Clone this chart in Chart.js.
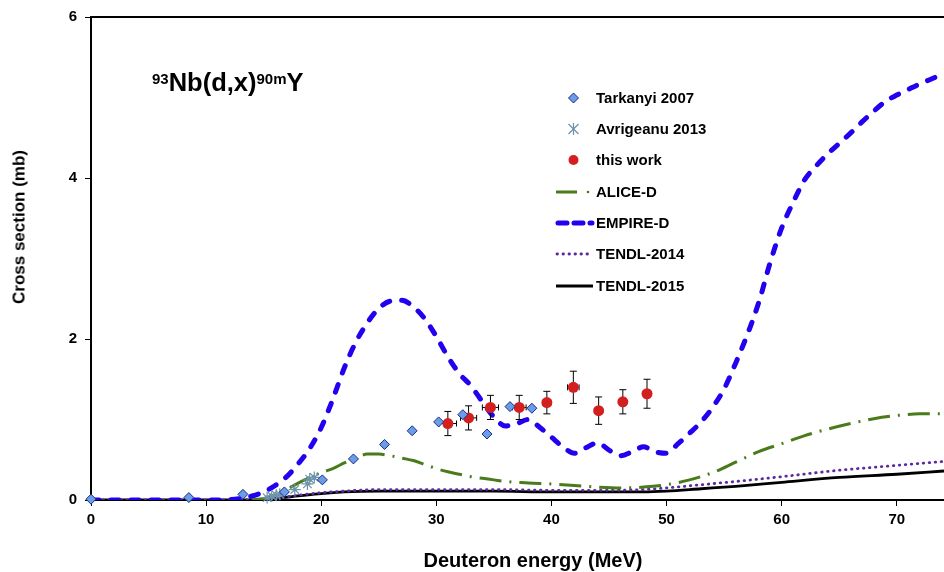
<!DOCTYPE html>
<html>
<head>
<meta charset="utf-8">
<script src="https://cdn.jsdelivr.net/npm/chart.js@4.4.1/dist/chart.umd.min.js"></script>
<style>
  body { margin: 0; background: #fff; }
  #wrap { position: relative; width: 944px; height: 572px; font-family: "Liberation Sans", Arial, sans-serif; font-weight: bold; color: #000; }
  canvas { position: absolute; left: 0; top: 0; }
  .lbl { position: absolute; white-space: nowrap; }
  .title { left: 152px; top: 70px; font-size: 25.5px; line-height: 25px; }
  .title sup { font-size: 15px; line-height: 0; vertical-align: 7px; }
  .ytitle { left: 19px; top: 227px; font-size: 17px; line-height: 17px; transform: translate(-50%, -50%) rotate(-90deg); }
  .xtitle { left: 533px; top: 550px; font-size: 20px; line-height: 20px; transform: translateX(-50%); }
  .leg { position: absolute; left: 555px; height: 16px; font-size: 15px; line-height: 16px; white-space: nowrap; }
  .leg svg { position: absolute; left: 0; top: 0; }
  .leg span { position: absolute; left: 41px; top: 0; }
</style>
</head>
<body>
<div id="wrap">
  <canvas id="chart" width="944" height="572"></canvas>
  <div class="lbl title"><sup>93</sup>Nb(d,x)<sup>90m</sup>Y</div>
  <div class="lbl ytitle">Cross section (mb)</div>
  <div class="lbl xtitle">Deuteron energy (MeV)</div>
  <div id="legend"></div>
</div>
<script>
// axis ticks
var xTicks = [0, 10, 20, 30, 40, 50, 60, 70];
var yTicks = [0, 2, 4, 6];

// Tarkanyi 2007
var tarkE  = [0, 8.5, 13.2, 16.8, 20.1, 22.8, 25.5, 27.9, 30.2, 32.3, 34.4, 36.4, 38.3];
var tarkXS = [0.01, 0.03, 0.07, 0.10, 0.25, 0.51, 0.69, 0.86, 0.97, 1.06, 0.82, 1.16, 1.14];

// Avrigeanu 2013
var avrE  = [15.3, 15.7, 16.1, 16.4, 17.7, 18.8, 19.0, 19.4];
var avrXS = [0.03, 0.05, 0.06, 0.07, 0.13, 0.20, 0.26, 0.28];

// this work (with uncertainties)
var workE   = [31.0, 32.8, 34.7, 37.2, 39.6, 41.9, 44.1, 46.2, 48.3];
var workXS  = [0.95, 1.02, 1.15, 1.15, 1.21, 1.40, 1.11, 1.22, 1.32];
var workDE  = [0.75, 0.7, 0.7, 0.6, 0.35, 0.5, 0.3, 0.2, 0.1];
var workDXS = [0.15, 0.15, 0.15, 0.15, 0.14, 0.20, 0.17, 0.15, 0.18];

// ALICE-D
var aliceE  = [14, 15, 16, 17, 18, 19, 20, 21, 22, 23, 24, 25, 26, 27, 28, 29, 30, 31, 32, 33, 34, 35, 36, 37, 38, 40, 42, 44, 46, 48, 50, 52, 54, 56, 58, 60, 62, 64, 66, 68, 70, 72, 74.1];
var aliceXS = [0, 0.02, 0.06, 0.13, 0.21, 0.28, 0.34, 0.39, 0.46, 0.52, 0.57, 0.57, 0.55, 0.52, 0.49, 0.44, 0.39, 0.35, 0.32, 0.29, 0.27, 0.25, 0.23, 0.22, 0.21, 0.2, 0.18, 0.16, 0.15, 0.16, 0.19, 0.25, 0.34, 0.47, 0.6, 0.7, 0.8, 0.88, 0.95, 1.01, 1.05, 1.07, 1.07];

// EMPIRE-D
var empireE  = [0, 5, 10, 12, 13, 14, 15, 16, 17, 18, 19, 20, 21, 22, 23, 24, 25, 26, 27, 28, 29, 30, 31, 32, 33, 34, 35, 36, 37, 38, 39, 40, 41, 42, 43, 44, 45, 46, 47, 48, 49, 50, 51, 52, 53, 54, 55, 56, 57, 58, 59, 60, 61, 62, 63, 64, 65, 66, 67, 68, 69, 70, 71, 72, 73, 74.1];
var empireXS = [0, 0, 0, 0.005, 0.02, 0.05, 0.1, 0.18, 0.29, 0.45, 0.64, 0.9, 1.25, 1.64, 1.96, 2.2, 2.38, 2.47, 2.48, 2.4, 2.25, 2.03, 1.78, 1.57, 1.42, 1.22, 1.03, 0.92, 0.95, 1.0, 0.9, 0.78, 0.66, 0.58, 0.65, 0.71, 0.62, 0.55, 0.6, 0.66, 0.6, 0.58, 0.7, 0.83, 0.97, 1.15, 1.38, 1.7, 2.05, 2.45, 2.95, 3.38, 3.7, 3.98, 4.15, 4.3, 4.43, 4.56, 4.7, 4.83, 4.95, 5.03, 5.1, 5.17, 5.23, 5.3];

// TENDL-2014
var t14E  = [0, 14, 16, 18, 20, 22, 25, 30, 35, 40, 45, 48, 50, 53, 56, 60, 65, 70, 74.1];
var t14XS = [0, 0, 0.02, 0.06, 0.09, 0.11, 0.13, 0.13, 0.13, 0.12, 0.12, 0.13, 0.15, 0.19, 0.23, 0.29, 0.37, 0.43, 0.48];

// TENDL-2015
var t15E  = [0, 14, 16, 18, 20, 22, 25, 30, 35, 40, 45, 48, 50, 53, 56, 60, 65, 70, 74.1];
var t15XS = [0, 0, 0.02, 0.05, 0.08, 0.1, 0.11, 0.11, 0.11, 0.1, 0.1, 0.1, 0.11, 0.14, 0.17, 0.22, 0.28, 0.32, 0.36];

function pts(xs, ys) {
    return xs.map(function(x, i) { return {x: x, y: ys[i]}; });
}

// draw the error bars of "this work" just before its points
var errorBars = {
    id: 'errorBars',
    beforeDatasetDraw: function(chart, args) {
        if (args.index !== 2) return;
        var ctx = chart.ctx, sx = chart.scales.x, sy = chart.scales.y;
        ctx.save();
        ctx.strokeStyle = '#000';
        ctx.lineWidth = 1;
        for (var i = 0; i < workE.length; i++) {
            var x = sx.getPixelForValue(workE[i]), y = sy.getPixelForValue(workXS[i]);
            var y1 = sy.getPixelForValue(workXS[i] + workDXS[i]), y2 = sy.getPixelForValue(workXS[i] - workDXS[i]);
            var x1 = sx.getPixelForValue(workE[i] - workDE[i]), x2 = sx.getPixelForValue(workE[i] + workDE[i]);
            ctx.beginPath();
            ctx.moveTo(x, y1); ctx.lineTo(x, y2);
            ctx.moveTo(x - 3.5, y1); ctx.lineTo(x + 3.5, y1);
            ctx.moveTo(x - 3.5, y2); ctx.lineTo(x + 3.5, y2);
            ctx.moveTo(x1, y); ctx.lineTo(x2, y);
            ctx.moveTo(x1, y - 3); ctx.lineTo(x1, y + 3);
            ctx.moveTo(x2, y - 3); ctx.lineTo(x2, y + 3);
            ctx.stroke();
        }
        ctx.restore();
    }
};

var tickFont = {family: '"Liberation Sans", Arial, sans-serif', size: 15, weight: 'bold'};

var chart = new Chart(document.getElementById('chart'), {
    type: 'scatter',
    data: {
        datasets: [
            {label: 'Tarkanyi 2007', data: pts(tarkE, tarkXS), pointStyle: 'rectRot', pointRadius: 5,
             backgroundColor: '#6b9de6', borderColor: '#1b2a8a', borderWidth: 1, clip: false},
            {label: 'Avrigeanu 2013', data: pts(avrE, avrXS), pointStyle: 'star', pointRadius: 6,
             borderColor: '#6d93ab', backgroundColor: '#6d93ab', borderWidth: 1.2, clip: false},
            {label: 'this work', data: pts(workE, workXS), pointStyle: 'circle', pointRadius: 5.5,
             backgroundColor: '#d41f1f', borderColor: '#d41f1f', borderWidth: 0, clip: false},
            {label: 'ALICE-D', data: pts(aliceE, aliceXS), showLine: true, pointRadius: 0,
             borderColor: '#4a7b1a', borderWidth: 3, borderDash: [22, 8, 2, 8], cubicInterpolationMode: 'monotone'},
            {label: 'EMPIRE-D', data: pts(empireE, empireXS), showLine: true, pointRadius: 0,
             borderColor: '#2200f0', borderWidth: 5, borderDash: [8, 12], borderCapStyle: 'round', cubicInterpolationMode: 'monotone'},
            {label: 'TENDL-2014', data: pts(t14E, t14XS), showLine: true, pointRadius: 0,
             borderColor: '#5a2aa0', borderWidth: 2.8, borderDash: [0.5, 5.5], borderCapStyle: 'round', cubicInterpolationMode: 'monotone'},
            {label: 'TENDL-2015', data: pts(t15E, t15XS), showLine: true, pointRadius: 0,
             borderColor: '#000', borderWidth: 2.8, cubicInterpolationMode: 'monotone'}
        ]
    },
    options: {
        responsive: false,
        animation: false,
        events: [],
        layout: {autoPadding: false, padding: {top: 15, right: 0, bottom: 0, left: 0}},
        plugins: {legend: {display: false}, tooltip: {enabled: false}},
        scales: {
            x: {
                type: 'linear', position: 'bottom', min: 0, max: 74.1,
                afterBuildTicks: function(s) { s.ticks = xTicks.map(function(v) { return {value: v}; }); },
                afterFit: function(s) { s.height = 72; },
                ticks: {color: '#000', font: tickFont, padding: 5, maxRotation: 0, autoSkip: false},
                grid: {drawOnChartArea: false, drawTicks: true, tickLength: 6, color: '#000', lineWidth: 1},
                border: {display: true, color: '#000', width: 2}
            },
            xTop: {
                type: 'linear', axis: 'x', position: 'top', min: 0, max: 74.1,
                afterFit: function(s) { s.height = 0; },
                ticks: {display: false},
                grid: {display: false},
                border: {display: true, color: '#000', width: 2}
            },
            y: {
                type: 'linear', min: 0, max: 6,
                afterBuildTicks: function(s) { s.ticks = yTicks.map(function(v) { return {value: v}; }); },
                afterFit: function(s) { s.width = 91; },
                ticks: {color: '#000', font: tickFont, padding: 8},
                grid: {drawOnChartArea: false, drawTicks: true, tickLength: 6, color: '#000', lineWidth: 1},
                border: {display: true, color: '#000', width: 2}
            }
        }
    },
    plugins: [errorBars]
});

// legend, built from the dataset styles
var legendY = [98, 129, 160, 192, 223, 254, 286];
var symbols = [
    '<polygon points="18.5,3 23.5,8 18.5,13 13.5,8" fill="#6b9de6" stroke="#1b2a8a" stroke-width="1"/>',
    '<g stroke="#6d93ab" stroke-width="1.2"><line x1="18.5" y1="2" x2="18.5" y2="14"/><line x1="13.5" y1="3" x2="23.5" y2="13"/><line x1="23.5" y1="3" x2="13.5" y2="13"/></g>',
    '<circle cx="18.5" cy="8" r="5" fill="#d41f1f"/>',
    '<line x1="1" y1="8" x2="22" y2="8" stroke="#4a7b1a" stroke-width="3"/><circle cx="33" cy="8" r="1.3" fill="#4a7b1a"/>',
    '<line x1="3" y1="8" x2="37" y2="8" stroke="#2200f0" stroke-width="5" stroke-linecap="round" stroke-dasharray="9 7"/>',
    '<line x1="2" y1="8" x2="37" y2="8" stroke="#5a2aa0" stroke-width="2.8" stroke-linecap="round" stroke-dasharray="0.5 5.5"/>',
    '<line x1="1" y1="8" x2="38" y2="8" stroke="#000" stroke-width="3"/>'
];
var html = '';
chart.data.datasets.forEach(function(ds, i) {
    html += '<div class="leg" style="top:' + (legendY[i] - 8) + 'px"><svg width="40" height="16">' +
        symbols[i] + '</svg><span>' + ds.label + '</span></div>';
});
document.getElementById('legend').innerHTML = html;
</script>
</body>
</html>
